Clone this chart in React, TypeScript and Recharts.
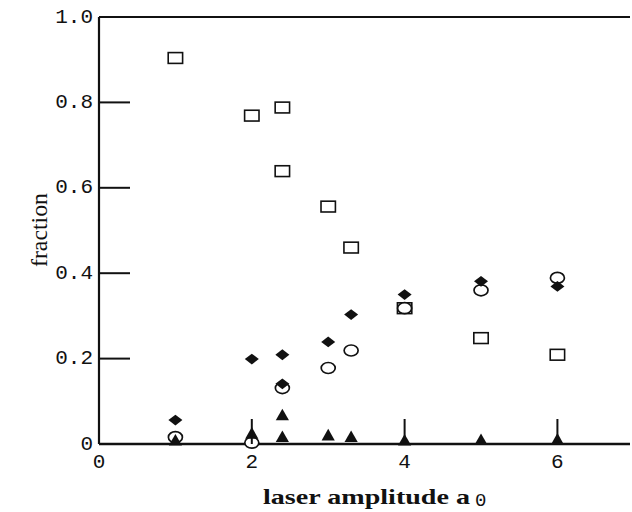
import { ScatterChart, Scatter, XAxis, YAxis, Label, ReferenceLine } from 'recharts';

// laser amplitude a0 (x) and fraction (y) for each marker set
const squareAmp = [1, 2, 2.4, 2.4, 3, 3.3, 4, 5, 6];
const squareFrac = [0.904, 0.769, 0.788, 0.639, 0.556, 0.46, 0.318, 0.248, 0.209];

const circleAmp = [1, 2, 2.4, 3, 3.3, 4, 5, 6];
const circleFrac = [0.016, 0.003, 0.131, 0.178, 0.219, 0.318, 0.36, 0.389];

const diamondAmp = [1, 2, 2.4, 2.4, 3, 3.3, 4, 5, 6];
const diamondFrac = [0.056, 0.199, 0.209, 0.141, 0.239, 0.303, 0.35, 0.381, 0.369];

const triangleAmp = [1, 2, 2.4, 2.4, 3, 3.3, 4, 5, 6];
const triangleFrac = [0.01, 0.026, 0.069, 0.018, 0.022, 0.018, 0.01, 0.011, 0.012];

const xTicks = [0, 2, 4, 6];
const yTicks = [0, 0.2, 0.4, 0.6, 0.8, 1.0];

const toPoints = (amps: number[], fracs: number[]) => amps.map((a, i) => ({ a, f: fracs[i] }));

const squares = toPoints(squareAmp, squareFrac);
const circles = toPoints(circleAmp, circleFrac);
const diamonds = toPoints(diamondAmp, diamondFrac);
const triangles = toPoints(triangleAmp, triangleFrac);

const MONO = '"Liberation Mono", "DejaVu Sans Mono", monospace';
const SERIF = '"Liberation Serif", "DejaVu Serif", serif';
const INK = '#111';

const X_TICK_LEN = 25;
const Y_TICK_LEN = 31;
const LEFT_GAP = 6;
const BOTTOM_GAP = 9;

const fmtY = (v: number) => (v === 0 ? '0' : v.toFixed(1));
const inner = (v: number, max: number) => v > 0 && v < max;

const OpenSquare = ({ cx, cy }: any) => (
  <rect x={cx - 7.2} y={cy - 5.4} width={14.4} height={10.8} fill="#fff" stroke={INK} strokeWidth={1.6} />
);
const OpenCircle = ({ cx, cy }: any) => (
  <ellipse cx={cx} cy={cy} rx={7} ry={5.5} fill="#fff" stroke={INK} strokeWidth={1.7} />
);
const Diamond = ({ cx, cy }: any) => (
  <polygon points={`${cx - 7},${cy} ${cx},${cy - 5.4} ${cx + 7},${cy} ${cx},${cy + 5.4}`} fill={INK} />
);
const Triangle = ({ cx, cy }: any) => (
  <polygon points={`${cx - 6.6},${cy + 5.8} ${cx},${cy - 5.8} ${cx + 6.6},${cy + 5.8}`} fill={INK} />
);

const LeftTick = ({ x, y, payload }: any) => (
  <g>
    <text x={x} y={y} textAnchor="end" dominantBaseline="central" fontFamily={MONO} fontSize={21} fill={INK}>
      {fmtY(payload.value)}
    </text>
    {inner(payload.value, 1) && (
      <line x1={x + LEFT_GAP} x2={x + LEFT_GAP + Y_TICK_LEN} y1={y} y2={y} stroke={INK} strokeWidth={2} />
    )}
  </g>
);

const RightTick = ({ x, y, payload }: any) =>
  inner(payload.value, 1) ? <line x1={x - Y_TICK_LEN} x2={x} y1={y} y2={y} stroke={INK} strokeWidth={2} /> : <g />;

const BottomTick = ({ x, y, payload }: any) => (
  <g>
    <text x={x} y={y} dy="0.71em" textAnchor="middle" fontFamily={MONO} fontSize={21} fill={INK}>
      {payload.value}
    </text>
    {inner(payload.value, 7) && (
      <line x1={x} x2={x} y1={y - BOTTOM_GAP} y2={y - BOTTOM_GAP - X_TICK_LEN} stroke={INK} strokeWidth={2} />
    )}
  </g>
);

const TopTick = ({ x, y, payload }: any) =>
  inner(payload.value, 7) ? <line x1={x} x2={x} y1={y} y2={y + X_TICK_LEN} stroke={INK} strokeWidth={2} /> : <g />;

const XTitle = () => (
  <g>
    <text x={263} y={504} textLength={207} lengthAdjust="spacingAndGlyphs" fontFamily={SERIF} fontWeight="bold" fontSize={22} fill={INK}>
      laser amplitude a
    </text>
    <text x={475} y={506} fontFamily={MONO} fontSize={19} fill={INK}>
      0
    </text>
  </g>
);

const YTitle = () => (
  <text
    x={39}
    y={230}
    transform="rotate(-90 39 230)"
    textAnchor="middle"
    dominantBaseline="central"
    textLength={74}
    lengthAdjust="spacingAndGlyphs"
    fontFamily={SERIF}
    fontSize={24}
    fill={INK}
  >
    fraction
  </text>
);

export default function App() {
  return (
    <div style={{ position: 'absolute', left: 0, top: 0, width: 632, height: 512, background: '#fff' }}>
      <ScatterChart width={632} height={512} margin={{ top: 17, right: 2, bottom: 0, left: 0 }}>
        <XAxis
          dataKey="a"
          type="number"
          domain={[0, 6.95]}
          ticks={xTicks}
          interval={0}
          height={68}
          tickSize={0}
          tickMargin={BOTTOM_GAP}
          tickLine={false}
          tick={BottomTick}
          axisLine={{ stroke: INK, strokeWidth: 2.4 }}
        >
          <Label content={XTitle} />
        </XAxis>
        <XAxis
          xAxisId="top"
          orientation="top"
          type="number"
          domain={[0, 6.95]}
          ticks={xTicks}
          interval={0}
          height={0}
          tickSize={0}
          tickMargin={0}
          tickLine={false}
          tick={TopTick}
          axisLine={{ stroke: INK, strokeWidth: 2.1 }}
        />
        <YAxis
          dataKey="f"
          type="number"
          domain={[0, 1]}
          ticks={yTicks}
          interval={0}
          width={99}
          tickSize={0}
          tickMargin={LEFT_GAP}
          tickLine={false}
          tick={LeftTick}
          axisLine={{ stroke: INK, strokeWidth: 2.1 }}
        >
          <Label content={YTitle} />
        </YAxis>
        <YAxis
          yAxisId="right"
          orientation="right"
          type="number"
          domain={[0, 1]}
          ticks={yTicks}
          interval={0}
          width={0}
          tickSize={0}
          tickMargin={0}
          tickLine={false}
          tick={RightTick}
          axisLine={{ stroke: '#666', strokeWidth: 1.4 }}
        />
        <ReferenceLine x={0} stroke={INK} strokeWidth={2.1} />
        <ReferenceLine y={1} stroke={INK} strokeWidth={2.1} />
        <Scatter data={squares} shape={OpenSquare} isAnimationActive={false} />
        <Scatter data={circles} shape={OpenCircle} isAnimationActive={false} />
        <Scatter data={diamonds} shape={Diamond} isAnimationActive={false} />
        <Scatter data={triangles} shape={Triangle} isAnimationActive={false} />
      </ScatterChart>
    </div>
  );
}
